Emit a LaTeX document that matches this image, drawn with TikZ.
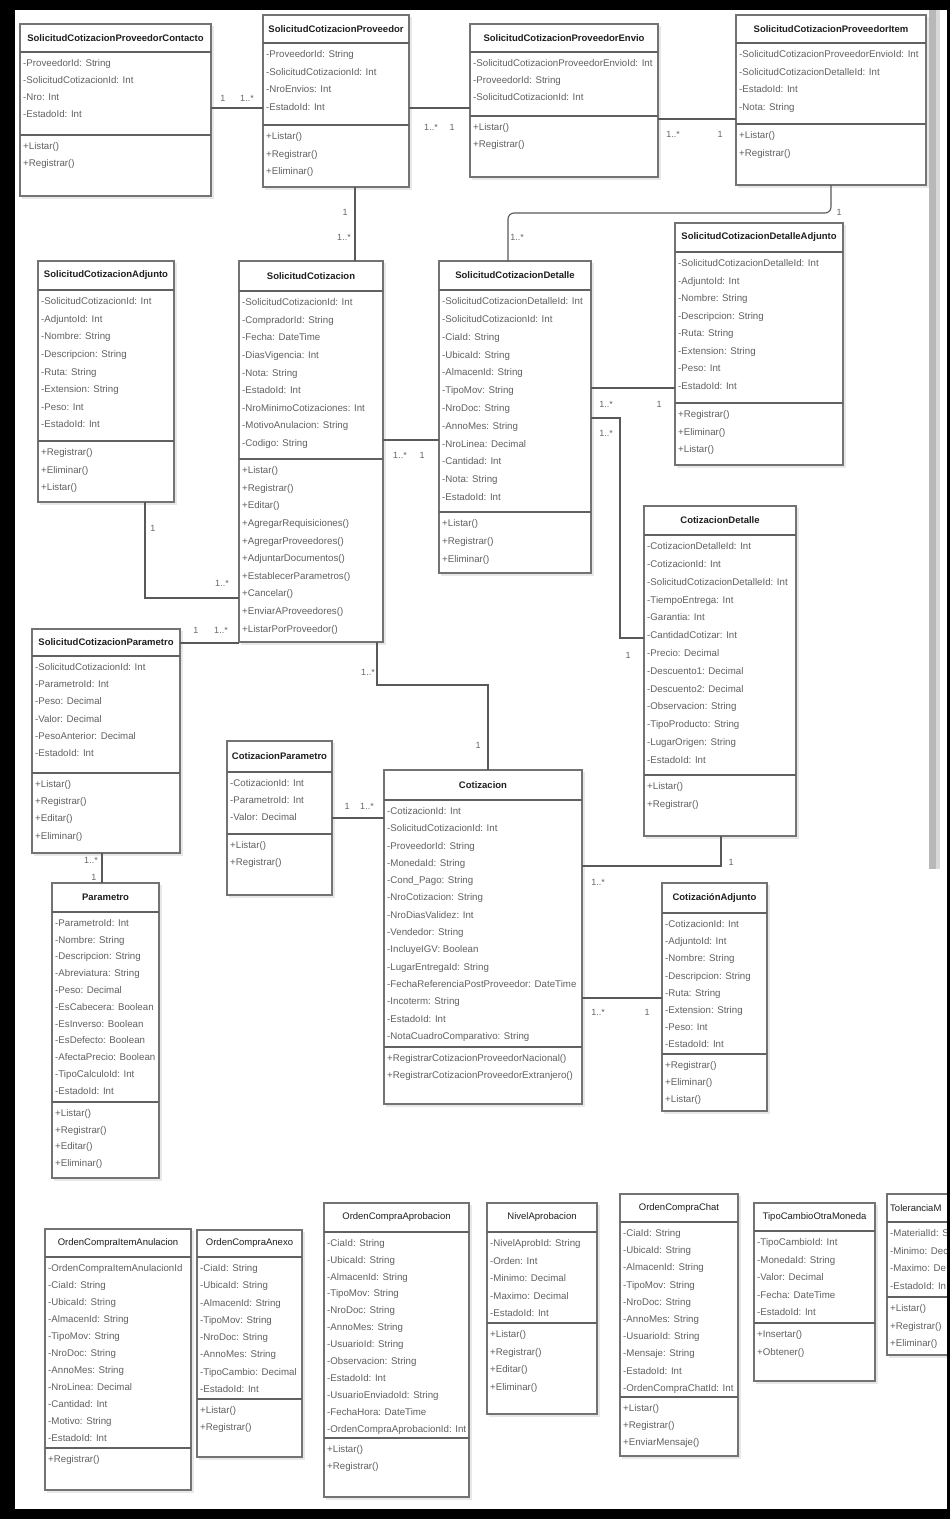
\documentclass[tikz,border=0pt]{standalone}
\usepackage{fontspec}
\setmainfont{Liberation Sans}
\begin{document}
\tikzset{
  classbox/.style={draw=black!55, line width=1.3pt, fill=white, inner sep=0pt, outer sep=0pt},
  sepline/.style={draw=black!62, line width=1.8pt},
  titletext/.style={inner sep=0pt, text=black!88, font=\fontsize{9.5}{11}\selectfont\bfseries},
  membertext/.style={inner sep=0pt, text=black!62, align=left, anchor=north west},
  conn/.style={draw=black!65, line width=1.1pt},
  mult/.style={inner sep=0pt, text=black!60, font=\fontsize{9}{10}\selectfont},
  shadowbox/.style={fill=black!9},
}
% name, l, t, r, b, hsep, asep
\newcommand{\umlbox}[7]{%
  \fill[shadowbox] (#2+2,#3+2) rectangle (#4+2.5,#5+2.5);
  \node[classbox, minimum width={(#4-#2)*1pt}, minimum height={(#5-#3)*1pt}, anchor=north west] (#1) at (#2,#3) {};
  \draw[sepline] (#2,#6) -- (#4,#6);
  \draw[sepline] (#2,#7) -- (#4,#7);
  \coordinate (#1-hc) at ({(#2+#4)/2},{(#3+#6)/2});
  \coordinate (#1-h) at (#2,#6);
  \coordinate (#1-s) at (#2,#7);
}
% name, spacing, title, attributes, methods
\newcommand{\umltext}[5]{%
  \node[titletext] (#1-t) at (#1-hc) {#3};
  \node[membertext, font=\fontsize{9.7}{#2}\selectfont] (#1-a) at ([xshift=3pt, yshift={-(#2/2-1.4)*1pt}]#1-h) {#4};
  \node[membertext, font=\fontsize{9.7}{#2}\selectfont] (#1-m) at ([xshift=3pt, yshift={-(#2/2-1.4)*1pt}]#1-s) {#5};
}
\begin{tikzpicture}[x=1pt,y=-1pt]
\clip (0,0) rectangle (950,1519);
\fill[white] (0,0) rectangle (950,1519);

% ---------- classes ----------
\umlbox{scpc}{20}{24}{211}{196}{52}{135}
\umltext{scpc}{17}{SolicitudCotizacionProveedorContacto}
 {-ProveedorId: String\\-SolicitudCotizacionId: Int\\-Nro: Int\\-EstadoId: Int}
 {+Listar()\\+Registrar()}

\umlbox{scp}{263}{15}{409}{187}{43}{125}
\umltext{scp}{17.5}{SolicitudCotizacionProveedor}
 {-ProveedorId: String\\-SolicitudCotizacionId: Int\\-NroEnvios: Int\\-EstadoId: Int}
 {+Listar()\\+Registrar()\\+Eliminar()}

\umlbox{scpe}{470}{24}{658}{177}{52}{116}
\umltext{scpe}{17}{SolicitudCotizacionProveedorEnvio}
 {-SolicitudCotizacionProveedorEnvioId: Int\\-ProveedorId: String\\-SolicitudCotizacionId: Int}
 {+Listar()\\+Registrar()}

\umlbox{scpi}{736}{15}{926}{185}{43}{124}
\umltext{scpi}{17.5}{SolicitudCotizacionProveedorItem}
 {-SolicitudCotizacionProveedorEnvioId: Int\\-SolicitudCotizacionDetalleId: Int\\-EstadoId: Int\\-Nota: String}
 {+Listar()\\+Registrar()}

\umlbox{scadj}{38}{261}{174}{502}{290}{441}
\umltext{scadj}{17.6}{SolicitudCotizacionAdjunto}
 {-SolicitudCotizacionId: Int\\-AdjuntoId: Int\\-Nombre: String\\-Descripcion: String\\-Ruta: String\\-Extension: String\\-Peso: Int\\-EstadoId: Int}
 {+Registrar()\\+Eliminar()\\+Listar()}

\umlbox{sc}{239}{261}{383}{642}{291}{459}
\umltext{sc}{17.6}{SolicitudCotizacion}
 {-SolicitudCotizacionId: Int\\-CompradorId: String\\-Fecha: DateTime\\-DiasVigencia: Int\\-Nota: String\\-EstadoId: Int\\-NroMinimoCotizaciones: Int\\-MotivoAnulacion: String\\-Codigo: String}
 {+Listar()\\+Registrar()\\+Editar()\\+AgregarRequisiciones()\\+AgregarProveedores()\\+AdjuntarDocumentos()\\+EstablecerParametros()\\+Cancelar()\\+EnviarAProveedores()\\+ListarPorProveedor()}

\umlbox{scd}{439}{261}{591}{573}{290}{512}
\umltext{scd}{17.8}{SolicitudCotizacionDetalle}
 {-SolicitudCotizacionDetalleId: Int\\-SolicitudCotizacionId: Int\\-CiaId: String\\-UbicaId: String\\-AlmacenId: String\\-TipoMov: String\\-NroDoc: String\\-AnnoMes: String\\-NroLinea: Decimal\\-Cantidad: Int\\-Nota: String\\-EstadoId: Int}
 {+Listar()\\+Registrar()\\+Eliminar()}

\umlbox{scdadj}{675}{223}{843}{465}{252}{403}
\umltext{scdadj}{17.5}{SolicitudCotizacionDetalleAdjunto}
 {-SolicitudCotizacionDetalleId: Int\\-AdjuntoId: Int\\-Nombre: String\\-Descripcion: String\\-Ruta: String\\-Extension: String\\-Peso: Int\\-EstadoId: Int}
 {+Registrar()\\+Eliminar()\\+Listar()}

\umlbox{cd}{644}{506}{796}{836}{535}{775}
\umltext{cd}{17.8}{CotizacionDetalle}
 {-CotizacionDetalleId: Int\\-CotizacionId: Int\\-SolicitudCotizacionDetalleId: Int\\-TiempoEntrega: Int\\-Garantia: Int\\-CantidadCotizar: Int\\-Precio: Decimal\\-Descuento1: Decimal\\-Descuento2: Decimal\\-Observacion: String\\-TipoProducto: String\\-LugarOrigen: String\\-EstadoId: Int}
 {+Listar()\\+Registrar()}

\umlbox{scparam}{32}{629}{180}{853}{656}{773}
\umltext{scparam}{17.2}{SolicitudCotizacionParametro}
 {-SolicitudCotizacionId: Int\\-ParametroId: Int\\-Peso: Decimal\\-Valor: Decimal\\-PesoAnterior: Decimal\\-EstadoId: Int}
 {+Listar()\\+Registrar()\\+Editar()\\+Eliminar()}

\umlbox{param}{52}{883}{159}{1178}{912}{1102}
\umltext{param}{16.8}{Parametro}
 {-ParametroId: Int\\-Nombre: String\\-Descripcion: String\\-Abreviatura: String\\-Peso: Decimal\\-EsCabecera: Boolean\\-EsInverso: Boolean\\-EsDefecto: Boolean\\-AfectaPrecio: Boolean\\-TipoCalculoId: Int\\-EstadoId: Int}
 {+Listar()\\+Registrar()\\+Editar()\\+Eliminar()}

\umlbox{cotparam}{227}{741}{332}{895}{772}{834}
\umltext{cotparam}{17}{CotizacionParametro}
 {-CotizacionId: Int\\-ParametroId: Int\\-Valor: Decimal}
 {+Listar()\\+Registrar()}

\umlbox{cot}{384}{770}{582}{1104}{800}{1047}
\umltext{cot}{17.3}{Cotizacion}
 {-CotizacionId: Int\\-SolicitudCotizacionId: Int\\-ProveedorId: String\\-MonedaId: String\\-Cond\_Pago: String\\-NroCotizacion: String\\-NroDiasValidez: Int\\-Vendedor: String\\-IncluyeIGV: Boolean\\-LugarEntregaId: String\\-FechaReferenciaPostProveedor: DateTime\\-Incoterm: String\\-EstadoId: Int\\-NotaCuadroComparativo: String}
 {+RegistrarCotizacionProveedorNacional()\\+RegistrarCotizacionProveedorExtranjero()}

\umlbox{cotadj}{662}{883}{767}{1111}{913}{1054}
\umltext{cotadj}{17.2}{CotizaciónAdjunto}
 {-CotizacionId: Int\\-AdjuntoId: Int\\-Nombre: String\\-Descripcion: String\\-Ruta: String\\-Extension: String\\-Peso: Int\\-EstadoId: Int}
 {+Registrar()\\+Eliminar()\\+Listar()}

% bottom row
\umlbox{ocia}{45}{1229}{191}{1490}{1257}{1448}
\umltext{ocia}{17}{\mdseries OrdenCompraItemAnulacion}
 {-OrdenCompraItemAnulacionId\\-CiaId: String\\-UbicaId: String\\-AlmacenId: String\\-TipoMov: String\\-NroDoc: String\\-AnnoMes: String\\-NroLinea: Decimal\\-Cantidad: Int\\-Motivo: String\\-EstadoId: Int}
 {+Registrar()}

\umlbox{ocanexo}{197}{1230}{302}{1457}{1257}{1399}
\umltext{ocanexo}{17.3}{\mdseries OrdenCompraAnexo}
 {-CiaId: String\\-UbicaId: String\\-AlmacenId: String\\-TipoMov: String\\-NroDoc: String\\-AnnoMes: String\\-TipoCambio: Decimal\\-EstadoId: Int}
 {+Listar()\\+Registrar()}

\umlbox{ocaprob}{324}{1203}{469}{1497}{1232}{1438}
\umltext{ocaprob}{16.9}{\mdseries OrdenCompraAprobacion}
 {-CiaId: String\\-UbicaId: String\\-AlmacenId: String\\-TipoMov: String\\-NroDoc: String\\-AnnoMes: String\\-UsuarioId: String\\-Observacion: String\\-EstadoId: Int\\-UsuarioEnviadoId: String\\-FechaHora: DateTime\\-OrdenCompraAprobacionId: Int}
 {+Listar()\\+Registrar()}

\umlbox{nivel}{487}{1203}{597}{1414}{1232}{1323}
\umltext{nivel}{17.5}{\mdseries NivelAprobacion}
 {-NivelAprobId: String\\-Orden: Int\\-Minimo: Decimal\\-Maximo: Decimal\\-EstadoId: Int}
 {+Listar()\\+Registrar()\\+Editar()\\+Eliminar()}

\umlbox{occhat}{620}{1194}{738}{1456}{1222}{1397}
\umltext{occhat}{17.2}{\mdseries OrdenCompraChat}
 {-CiaId: String\\-UbicaId: String\\-AlmacenId: String\\-TipoMov: String\\-NroDoc: String\\-AnnoMes: String\\-UsuarioId: String\\-Mensaje: String\\-EstadoId: Int\\-OrdenCompraChatId: Int}
 {+Listar()\\+Registrar()\\+EnviarMensaje()}

\umlbox{tcom}{754}{1203}{875}{1381}{1231}{1323}
\umltext{tcom}{17.5}{\mdseries TipoCambioOtraMoneda}
 {-TipoCambioId: Int\\-MonedaId: String\\-Valor: Decimal\\-Fecha: DateTime\\-EstadoId: Int}
 {+Insertar()\\+Obtener()}

% the last class is cut off by the right edge of the screenshot
\umlbox{tol}{887}{1194}{1010}{1355}{1222}{1297}
\node[titletext, anchor=west] (tol-t) at ([xshift=3pt]tol-h |- tol-hc) {\mdseries ToleranciaM};
\node[membertext, font=\fontsize{9.7}{17.5}\selectfont] (tol-a) at ([xshift=3pt, yshift=-7.35pt]tol-h) {-MaterialId: S\\-Minimo: Dec\\-Maximo: De\\-EstadoId: In};
\node[membertext, font=\fontsize{9.7}{17.5}\selectfont] (tol-m) at ([xshift=3pt, yshift=-7.35pt]tol-s) {+Listar()\\+Registrar()\\+Eliminar()};

% ---------- connectors ----------
\draw[conn] (scpc.east |- 0,108) -- (scp.west |- 0,108);
\node[mult] (m1a) at (223,98) {1};
\node[mult] (m1b) at (247,98) {1..*};

\draw[conn] (scp.east |- 0,108) -- (scpe.west |- 0,108);
\node[mult] (m2a) at (431,127) {1..*};
\node[mult] (m2b) at (452,127) {1};

\draw[conn] (scpe.east |- 0,119) -- (scpi.west |- 0,119);
\node[mult] (m3a) at (673,134) {1..*};
\node[mult] (m3b) at (720,134) {1};

\draw[conn, rounded corners=6pt] (scpi.south -| 831,0) |- (508,213) -- (scd.north -| 508,0);
\node[mult] (m4a) at (839,212) {1};
\node[mult] (m4b) at (517,237) {1..*};

\draw[conn] (scp.south -| 355,0) -- (sc.north -| 355,0);
\node[mult] (m5a) at (345,212) {1};
\node[mult] (m5b) at (344,237) {1..*};

\draw[conn] (scadj.south -| 145,0) |- (sc.west |- 0,598);
\node[mult] (m6a) at (153,528) {1};
\node[mult] (m6b) at (222,583) {1..*};

\draw[conn] (scparam.east |- 0,643) -- (sc.west |- 0,643);
\node[mult] (m7a) at (196,630) {1};
\node[mult] (m7b) at (221,630) {1..*};

\draw[conn] (sc.east |- 0,440) -- (scd.west |- 0,440);
\node[mult] (m8a) at (400,455) {1..*};
\node[mult] (m8b) at (422,455) {1};

\draw[conn] (scd.east |- 0,388) -- (scdadj.west |- 0,388);
\node[mult] (m9a) at (606,404) {1..*};
\node[mult] (m9b) at (659,404) {1};

\draw[conn] (scd.east |- 0,418) -| (620,638) -- (cd.west |- 0,638);
\node[mult] (m10a) at (606,433) {1..*};
\node[mult] (m10b) at (628,655) {1};

\draw[conn] (sc.south -| 377,0) |- (488,685) -- (cot.north -| 488,0);
\node[mult] (m11a) at (368,672) {1..*};
\node[mult] (m11b) at (478,745) {1};

\draw[conn] (cd.south -| 721,0) |- (cot.east |- 0,866);
\node[mult] (m12a) at (731,862) {1};
\node[mult] (m12b) at (598,882) {1..*};

\draw[conn] (cot.east |- 0,998) -- (cotadj.west |- 0,998);
\node[mult] (m13a) at (598,1012) {1..*};
\node[mult] (m13b) at (647,1012) {1};

\draw[conn] (cotparam.east |- 0,818) -- (cot.west |- 0,818);
\node[mult] (m14a) at (347,806) {1};
\node[mult] (m14b) at (367,806) {1..*};

\draw[conn] (scparam.south -| 102,0) -- (param.north -| 102,0);
\node[mult] (m15a) at (91,860) {1..*};
\node[mult] (m15b) at (94,877) {1};

% ---------- screenshot frame ----------
\fill[black!28] (929,10) rectangle (940,869);
\fill[black!15] (936,10) rectangle (940,869);
\fill[black] (0,0) rectangle (950,10);
\fill[black] (0,0) rectangle (15,1519);
\fill[black] (0,1509) rectangle (950,1519);
\fill[black] (946.5,0) rectangle (950,1519);
\end{tikzpicture}
\end{document}
